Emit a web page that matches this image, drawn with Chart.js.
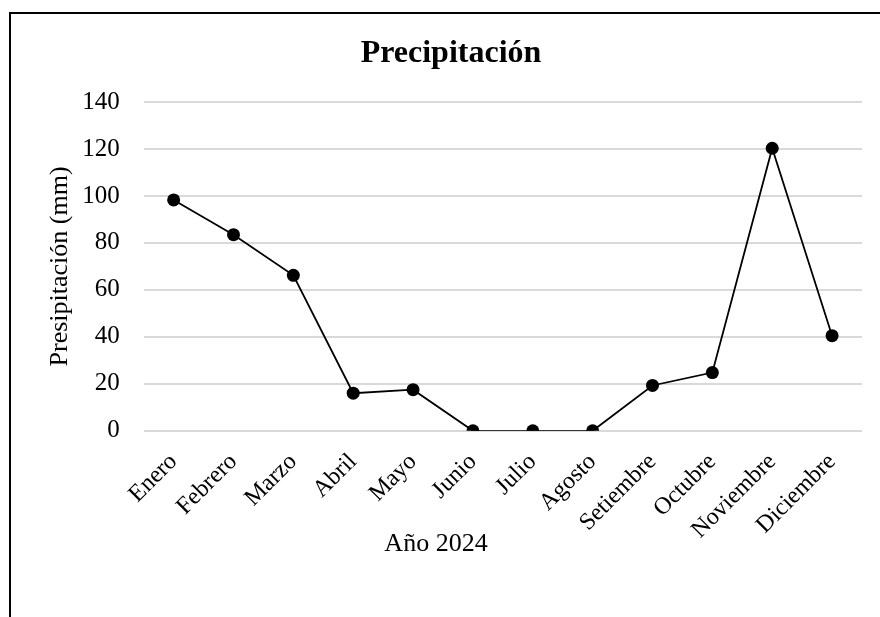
<!DOCTYPE html>
<html>
<head>
<meta charset="utf-8">
<script src="https://cdn.jsdelivr.net/npm/chart.js@4"></script>
<style>
  html, body { margin: 0; padding: 0; background: #fff; }
  #wrap { position: relative; width: 880px; height: 617px; overflow: hidden; }
  #frame { position: absolute; left: 9px; top: 12px; width: 900px; height: 700px;
           border-left: 2px solid #000; border-top: 2px solid #000; }
  canvas { position: absolute; left: 0; top: 0; }
</style>
</head>
<body>
<div id="wrap">
  <div id="frame"></div>
  <canvas id="chart" width="880" height="617"></canvas>
</div>
<script>
const months = ['Enero', 'Febrero', 'Marzo', 'Abril', 'Mayo', 'Junio', 'Julio',
                'Agosto', 'Setiembre', 'Octubre', 'Noviembre', 'Diciembre'];
const rainfall = [98.3, 83.5, 66.2, 16.0, 17.5, 0, 0, 0, 19.3, 24.8, 120.3, 40.5];
const yTicks = [0, 20, 40, 60, 80, 100, 120, 140];
const xTitle = 'Año 2024';

const serif = 'Liberation Serif, Times New Roman, serif';

// x axis title is centred under the whole plot block (labels included), like Excel does
const xTitlePlugin = {
    id: 'xTitle',
    afterDraw(chart) {
        const c = chart.ctx;
        const area = chart.chartArea;
        c.save();
        c.font = '26px ' + serif;
        c.fillStyle = '#000';
        c.textAlign = 'center';
        c.textBaseline = 'middle';
        c.fillText(xTitle, (10 + area.right) / 2, area.bottom + 113);
        c.restore();
    }
};

const ctx = document.getElementById('chart').getContext('2d');
new Chart(ctx, {
    type: 'line',
    data: {
        labels: months,
        datasets: [{
            data: rainfall,
            borderColor: '#000',
            backgroundColor: '#000',
            borderWidth: 1.8,
            pointRadius: 6.5,
            pointBackgroundColor: '#000',
            pointBorderWidth: 0,
            tension: 0,
        }]
    },
    plugins: [xTitlePlugin],
    options: {
        responsive: false,
        animation: false,
        layout: { padding: { left: 40, right: 18, top: 35, bottom: 63.5 } },
        plugins: {
            legend: { display: false },
            tooltip: { enabled: false },
            title: {
                display: true,
                text: 'Precipitación',
                color: '#000',
                font: { family: serif, size: 32, weight: 'bold' },
                padding: { top: 0, bottom: 28.6 }
            }
        },
        scales: {
            x: {
                offset: true,
                grid: { display: false },
                border: { display: false },
                afterFit: axis => { axis.paddingLeft = 0; axis.paddingRight = 0; },
                ticks: {
                    color: '#000',
                    font: { family: serif, size: 24 },
                    minRotation: 45,
                    maxRotation: 45,
                    padding: 9
                }
            },
            y: {
                min: yTicks[0],
                max: yTicks[yTicks.length - 1],
                afterBuildTicks: axis => { axis.ticks = yTicks.map(v => ({ value: v })); },
                grid: { color: '#d9d9d9', lineWidth: 2, drawTicks: false },
                border: { display: false },
                ticks: {
                    color: '#000',
                    font: { family: serif, size: 25 },
                    padding: 24
                },
                title: {
                    display: true,
                    text: 'Presipitación (mm)',
                    color: '#000',
                    font: { family: serif, size: 26 },
                    padding: { top: 5, bottom: -18 }
                }
            }
        }
    }
});
</script>
</body>
</html>
